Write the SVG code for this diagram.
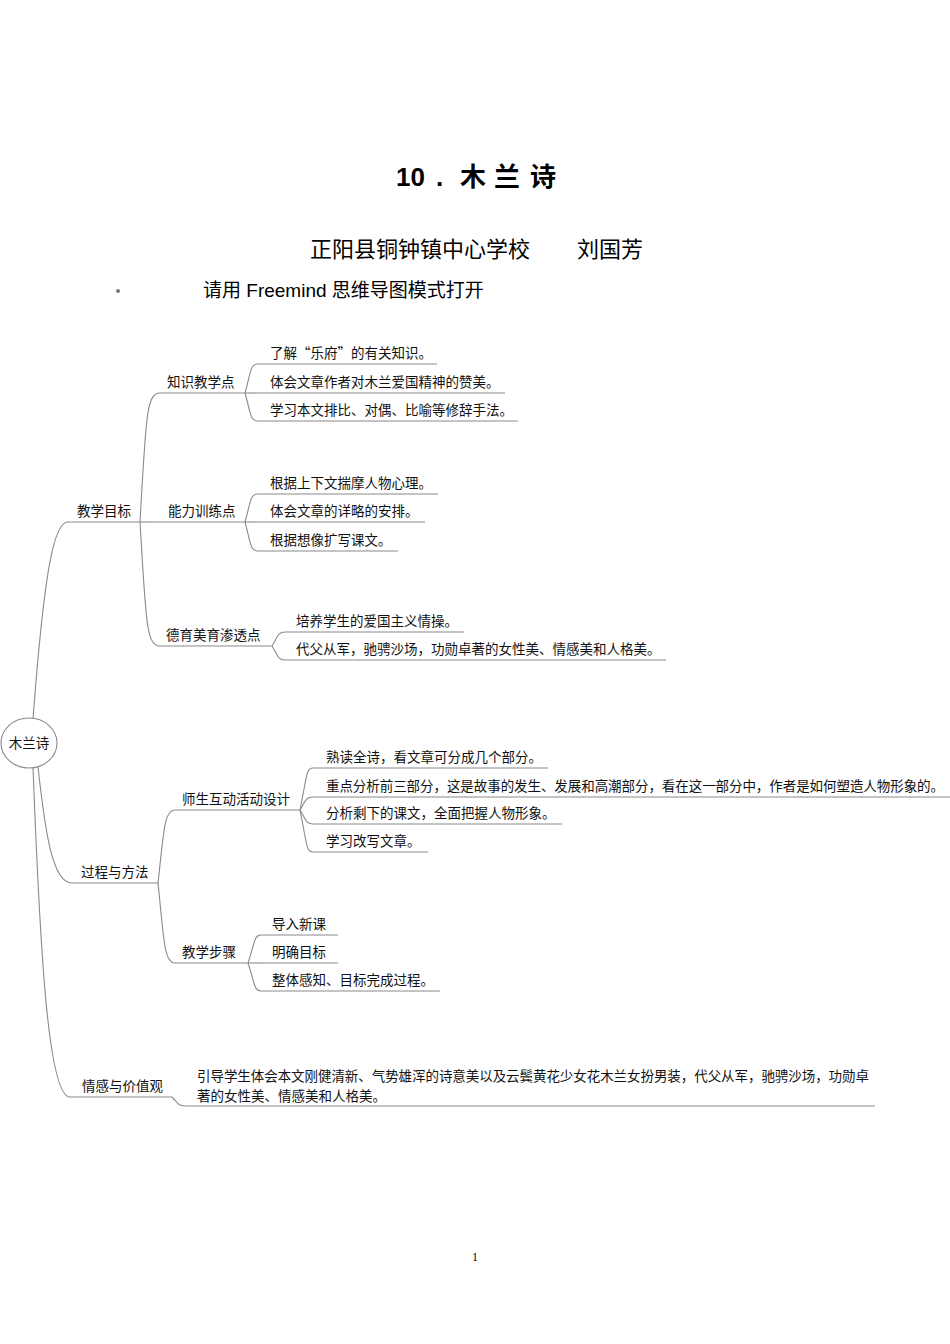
<svg xmlns="http://www.w3.org/2000/svg" width="950" height="1344" viewBox="0 0 950 1344">
<style>
.bg{fill:#ffffff}
.t{font-family:"Noto Sans CJK SC","Liberation Sans",sans-serif;font-size:13.5px;fill:#111}
.ul{stroke:#8a8a8a;stroke-width:1.1;fill:none}
.edge{stroke:#8a8a8a;stroke-width:1.1;fill:none}
.head{font-family:"Liberation Sans","Noto Sans CJK SC",sans-serif;fill:#000}
</style>
<rect class="bg" x="0" y="0" width="950" height="1344"/>

<g id="header">
<text class="head" x="396 410.5 436 460 494 530" y="186" font-size="26" font-weight="bold">10.木兰诗</text>
<text class="head" x="310" y="257" font-size="22">正阳县铜钟镇中心学校</text>
<text class="head" x="577" y="257" font-size="22">刘国芳</text>
<circle cx="118" cy="291" r="2" fill="#777"/>
<text class="head" x="203" y="297" font-size="19">请用 Freemind 思维导图模式打开</text>
<text x="475" y="1261" font-family="Liberation Serif,serif" font-size="12" text-anchor="middle" fill="#000">1</text>
</g>

<g id="connectors">
<path class="edge" d="M33,719 C45,560 55,522 68,522"/>
<path class="edge" d="M38,767 C45,830 52,883 72,883"/>
<path class="edge" d="M33,767 C40,950 48,1097 70,1097"/>
<path class="edge" d="M140,522 C146,420 146,393 160,393"/>
<path class="edge" d="M140,522 L150,522"/>
<path class="edge" d="M140,522 C146,620 146,646 160,646"/>
<path class="edge" d="M245,393 C251,372 250,364 258,364"/>
<path class="edge" d="M245,393 L258,393"/>
<path class="edge" d="M245,393 C251,414 250,421 258,421"/>
<path class="edge" d="M245,522 C251,501 250,494 258,494"/>
<path class="edge" d="M245,522 L258,522"/>
<path class="edge" d="M245,522 C251,544 250,551 258,551"/>
<path class="edge" d="M272,646 C278,636 278,632 285,632"/>
<path class="edge" d="M272,646 C278,656 278,660 285,660"/>
<path class="edge" d="M158,883 C164,830 164,810 175,810"/>
<path class="edge" d="M158,883 C164,940 164,963 175,963"/>
<path class="edge" d="M300,810 C307,776 306,768 313,768"/>
<path class="edge" d="M300,810 C306,800 306,797 313,797"/>
<path class="edge" d="M300,810 C306,820 306,824 313,824"/>
<path class="edge" d="M300,810 C307,844 306,852 313,852"/>
<path class="edge" d="M248,963 C255,942 254,935 261,935"/>
<path class="edge" d="M248,963 L261,963"/>
<path class="edge" d="M248,963 C255,984 254,991 261,991"/>
<path class="edge" d="M172,1097 C178,1103 178,1106 186,1106"/>
</g>

<g id="root">
<ellipse cx="29" cy="743" rx="28" ry="25" fill="#fff" stroke="#8a8a8a" stroke-width="1.1"/>
<text class="t" x="29" y="748" text-anchor="middle">木兰诗</text>
</g>

<g id="jiaoxuemubiao">
<line class="ul" x1="68" y1="522" x2="140" y2="522"/>
<text class="t" x="77" y="516">教学目标</text>
</g>
<g id="zhishi">
<line class="ul" x1="160" y1="393" x2="245" y2="393"/>
<text class="t" x="167" y="387">知识教学点</text>
</g>
<g id="zhishi-1">
<line class="ul" x1="258" y1="364" x2="437" y2="364"/>
<text class="t" x="270" y="358">了解“乐府”的有关知识。</text>
</g>
<g id="zhishi-2">
<line class="ul" x1="258" y1="393" x2="505" y2="393"/>
<text class="t" x="270" y="387">体会文章作者对木兰爱国精神的赞美。</text>
</g>
<g id="zhishi-3">
<line class="ul" x1="258" y1="421" x2="518" y2="421"/>
<text class="t" x="270" y="415">学习本文排比、对偶、比喻等修辞手法。</text>
</g>
<g id="nengli">
<line class="ul" x1="150" y1="522" x2="245" y2="522"/>
<text class="t" x="168" y="516">能力训练点</text>
</g>
<g id="nengli-1">
<line class="ul" x1="258" y1="494" x2="438" y2="494"/>
<text class="t" x="270" y="488">根据上下文揣摩人物心理。</text>
</g>
<g id="nengli-2">
<line class="ul" x1="258" y1="522" x2="425" y2="522"/>
<text class="t" x="270" y="516">体会文章的详略的安排。</text>
</g>
<g id="nengli-3">
<line class="ul" x1="258" y1="551" x2="398" y2="551"/>
<text class="t" x="270" y="545">根据想像扩写课文。</text>
</g>
<g id="deyu">
<line class="ul" x1="160" y1="646" x2="272" y2="646"/>
<text class="t" x="166" y="640">德育美育渗透点</text>
</g>
<g id="deyu-1">
<line class="ul" x1="285" y1="632" x2="464" y2="632"/>
<text class="t" x="296" y="626">培养学生的爱国主义情操。</text>
</g>
<g id="deyu-2">
<line class="ul" x1="285" y1="660" x2="666" y2="660"/>
<text class="t" x="296" y="654">代父从军，驰骋沙场，功勋卓著的女性美、情感美和人格美。</text>
</g>

<g id="guocheng">
<line class="ul" x1="72" y1="883" x2="158" y2="883"/>
<text class="t" x="81" y="877">过程与方法</text>
</g>
<g id="shisheng">
<line class="ul" x1="175" y1="810" x2="300" y2="810"/>
<text class="t" x="182" y="804">师生互动活动设计</text>
</g>
<g id="shisheng-1">
<line class="ul" x1="313" y1="768" x2="548" y2="768"/>
<text class="t" x="326" y="762">熟读全诗，看文章可分成几个部分。</text>
</g>
<g id="shisheng-2">
<line class="ul" x1="313" y1="797" x2="950" y2="797"/>
<text class="t" x="326" y="791" textLength="618">重点分析前三部分，这是故事的发生、发展和高潮部分，看在这一部分中，作者是如何塑造人物形象的。</text>
</g>
<g id="shisheng-3">
<line class="ul" x1="313" y1="824" x2="562" y2="824"/>
<text class="t" x="326" y="818">分析剩下的课文，全面把握人物形象。</text>
</g>
<g id="shisheng-4">
<line class="ul" x1="313" y1="852" x2="428" y2="852"/>
<text class="t" x="326" y="846">学习改写文章。</text>
</g>
<g id="buzhou">
<line class="ul" x1="175" y1="963" x2="248" y2="963"/>
<text class="t" x="182" y="957">教学步骤</text>
</g>
<g id="buzhou-1">
<line class="ul" x1="261" y1="935" x2="338" y2="935"/>
<text class="t" x="272" y="929">导入新课</text>
</g>
<g id="buzhou-2">
<line class="ul" x1="261" y1="963" x2="338" y2="963"/>
<text class="t" x="272" y="957">明确目标</text>
</g>
<g id="buzhou-3">
<line class="ul" x1="261" y1="991" x2="440" y2="991"/>
<text class="t" x="272" y="985">整体感知、目标完成过程。</text>
</g>

<g id="qinggan">
<line class="ul" x1="70" y1="1097" x2="172" y2="1097"/>
<text class="t" x="82" y="1091">情感与价值观</text>
</g>
<g id="qinggan-1">
<line class="ul" x1="186" y1="1106" x2="875" y2="1106"/>
<text class="t" x="197" y="1081" textLength="672">引导学生体会本文刚健清新、气势雄浑的诗意美以及云鬓黄花少女花木兰女扮男装，代父从军，驰骋沙场，功勋卓</text>
<text class="t" x="197" y="1101">著的女性美、情感美和人格美。</text>
</g>
</svg>
